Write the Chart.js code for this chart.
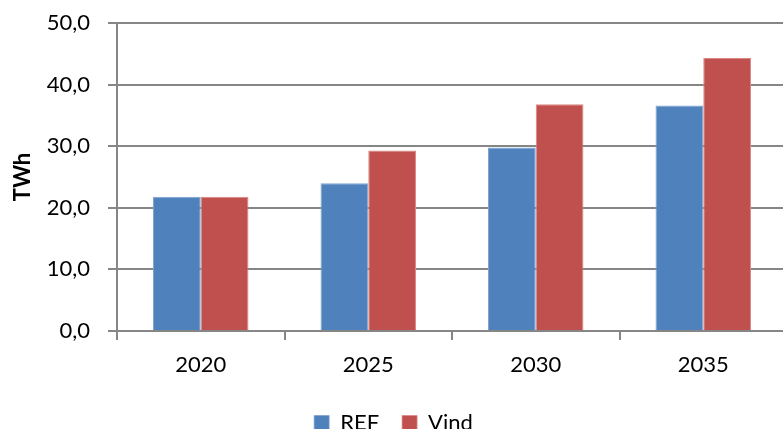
<!DOCTYPE html>
<html><head><meta charset="utf-8">
<script src="https://cdn.jsdelivr.net/npm/chart.js@4/dist/chart.umd.min.js"></script>
<style>html,body{margin:0;padding:0;overflow:hidden;background:#fff}#wrap{width:787px;height:429px}</style>
</head><body><div id="wrap"><canvas id="c" width="787" height="429"></canvas></div>
<script>
const categories = ['2020', '2025', '2030', '2035'];
const refValues = [21.8, 24.0, 29.8, 36.6];
const vindValues = [21.8, 29.3, 36.8, 44.3];
const seriesNames = ['REF', 'Vind'];
const yTicks = [0, 10, 20, 30, 40, 50];

const FONT = 'Lato';
const grid = '#868686';
new Chart(document.getElementById('c'), {
  type: 'bar',
  data: {
    labels: categories,
    datasets: [
      {label: seriesNames[0], data: refValues, backgroundColor: '#4F81BD', borderColor: '#7FA3CF', borderWidth: {top:1,left:1,right:1,bottom:0}, categoryPercentage: 0.57, barPercentage: 1},
      {label: seriesNames[1], data: vindValues, backgroundColor: '#C0504D', borderColor: '#D98886', borderWidth: {top:1,left:1,right:1,bottom:0}, categoryPercentage: 0.57, barPercentage: 1}
    ]
  },
  options: {
    responsive: false,
    animation: false,
    devicePixelRatio: 1,
    layout: {padding: {top: 23, left: 0, right: 0, bottom: -15}},
    plugins: {
      legend: {
        position: 'bottom',
        labels: {font: {family: FONT, size: 22}, color: '#000', boxWidth: 15, boxHeight: 15, padding: 23, useBorderRadius: false}
      },
      tooltip: {enabled: false}
    },
    scales: {
      x: {
        afterFit: s => { s.height = 58; },
        grid: {display: true, drawOnChartArea: false, offset: true, color: grid, tickLength: 9, lineWidth: 2},
        border: {color: grid, width: 2},
        ticks: {font: {family: FONT, size: 22}, color: '#000', padding: 12}
      },
      y: {
        min: 0, max: 50,
        afterBuildTicks: s => { s.ticks = yTicks.map(v => ({value: v})); },
        afterFit: s => { s.width = 117; s.paddingTop = 0; s.paddingBottom = 0; },
        grid: {color: grid, tickLength: 9, lineWidth: 2},
        border: {color: grid, width: 2},
        ticks: {font: {family: FONT, size: 22}, color: '#000', padding: 18,
                callback: v => v.toFixed(1).replace('.', ',')},
        title: {display: true, text: 'TWh', font: {family: FONT, size: 22, weight: 'bold'}, color: '#000', padding: {top: 10, bottom: 0}}
      }
    }
  }
});
</script></body></html>
